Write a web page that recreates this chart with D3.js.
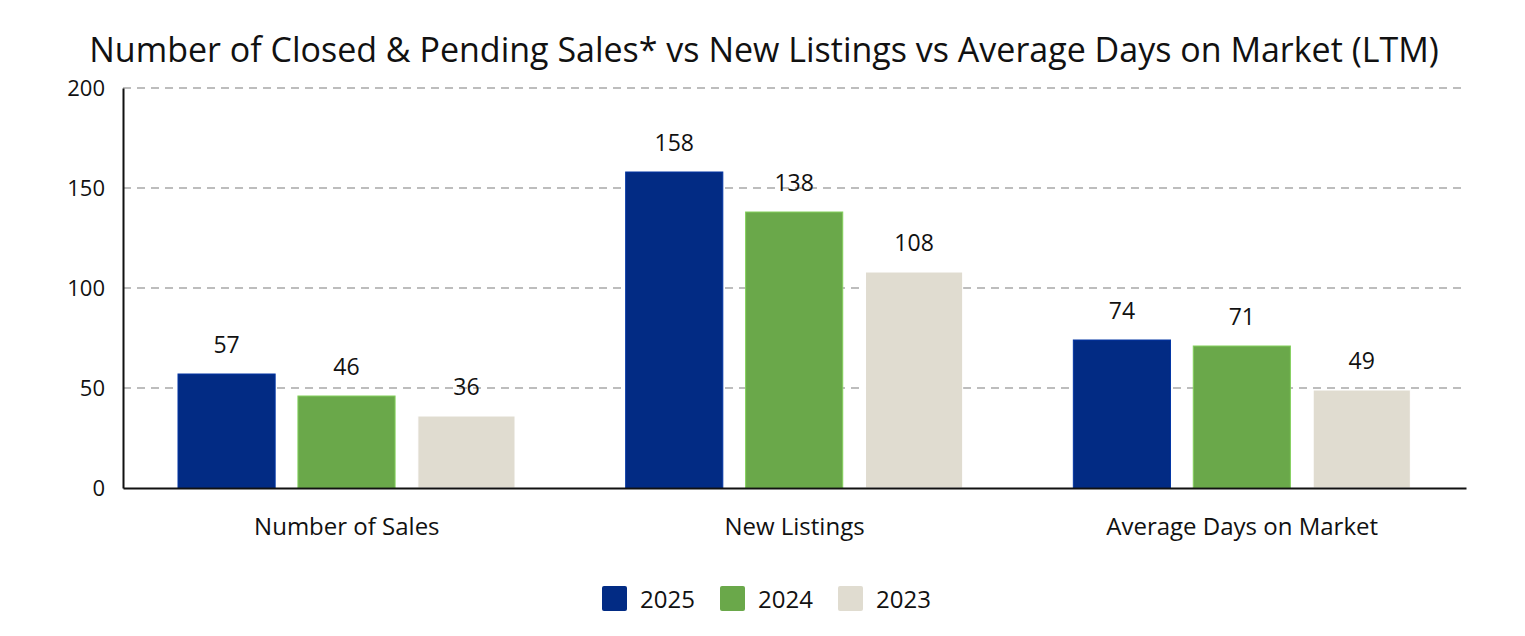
<!DOCTYPE html>
<html><head><meta charset="utf-8">
<script src="https://cdn.jsdelivr.net/npm/d3@7"></script>
<style>body{margin:0;background:#fff;} text{font-family:"Open Sans",sans-serif;fill:#111;}</style>
</head><body>
<svg id="c" width="1525" height="636"></svg>
<script>
const categories = ["Number of Sales", "New Listings", "Average Days on Market"];
const seriesNames = ["2025", "2024", "2023"];
const values2025 = [57, 158, 74];
const values2024 = [46, 138, 71];
const values2023 = [36, 108, 49];
const yTicks = [0, 50, 100, 150, 200];
const colors = ["#022b84", "#6aa84a", "#e0dcd0"];
const title = "Number of Closed & Pending Sales* vs New Listings vs Average Days on Market (LTM)";

const series = [values2025, values2024, values2023];
const svg = d3.select("#c");
const m = {l: 123, r: 1466, t: 88, b: 488};

const x0 = d3.scaleBand().domain(categories).range([m.l, m.r]).paddingInner(0).paddingOuter(0);
const x1 = d3.scaleBand().domain(seriesNames).range([55, 392]).paddingInner(0.19).paddingOuter(0);
const y = d3.scaleLinear().domain([0, 200]).range([m.b, m.t]);

svg.append("text").attr("x", 764).attr("y", 62).attr("text-anchor", "middle")
  .style("font-size", "34px").text(title);

// gridlines
svg.append("g").selectAll("line").data(yTicks.filter(d => d > 0)).join("line")
  .attr("x1", m.l).attr("x2", 1461).attr("y1", d => y(d)).attr("y2", d => y(d))
  .attr("stroke", "#bdbdbd").attr("stroke-width", 2).attr("stroke-dasharray", "8,6");

// y axis
const ya = svg.append("g").attr("transform", `translate(${m.l},0)`)
  .call(d3.axisLeft(y).tickValues(yTicks).tickSize(0).tickPadding(18));
ya.select(".domain").attr("stroke", "#111").attr("stroke-width", 2);
ya.selectAll("text").style("font-size", "22px").style("font-family", "Open Sans").attr("fill", "#111");

// bars
const g = svg.append("g");
categories.forEach((c, ci) => {
  seriesNames.forEach((s, si) => {
    const v = series[si][ci];
    const bx = x0(c) + x1(s);
    g.append("rect").attr("x", bx).attr("y", y(v)).attr("width", x1.bandwidth())
      .attr("height", y(0) - y(v)).attr("fill", colors[si])
      .attr("stroke", d3.color(colors[si]).brighter(0.6)).attr("stroke-width", 1);
    g.append("text").attr("x", bx + x1.bandwidth() / 2).attr("y", y(v) - 21)
      .attr("text-anchor", "middle").style("font-size", "23px").text(v);
  });
});

// x axis
const xa = svg.append("g").attr("transform", `translate(0,${m.b})`)
  .call(d3.axisBottom(x0).tickSize(0).tickPadding(30));
xa.select(".domain").attr("stroke", "#111").attr("stroke-width", 2);
xa.selectAll("text").style("font-size", "24px").style("font-family", "Open Sans").attr("fill", "#111");

// legend
const lg = svg.append("g");
const lx = [602, 720, 838];
seriesNames.forEach((s, i) => {
  lg.append("rect").attr("x", lx[i]).attr("y", 586).attr("width", 25).attr("height", 25)
    .attr("rx", 2).attr("fill", colors[i]);
  lg.append("text").attr("x", lx[i] + 38).attr("y", 608).style("font-size", "24px").text(s);
});
</script>
</body></html>
